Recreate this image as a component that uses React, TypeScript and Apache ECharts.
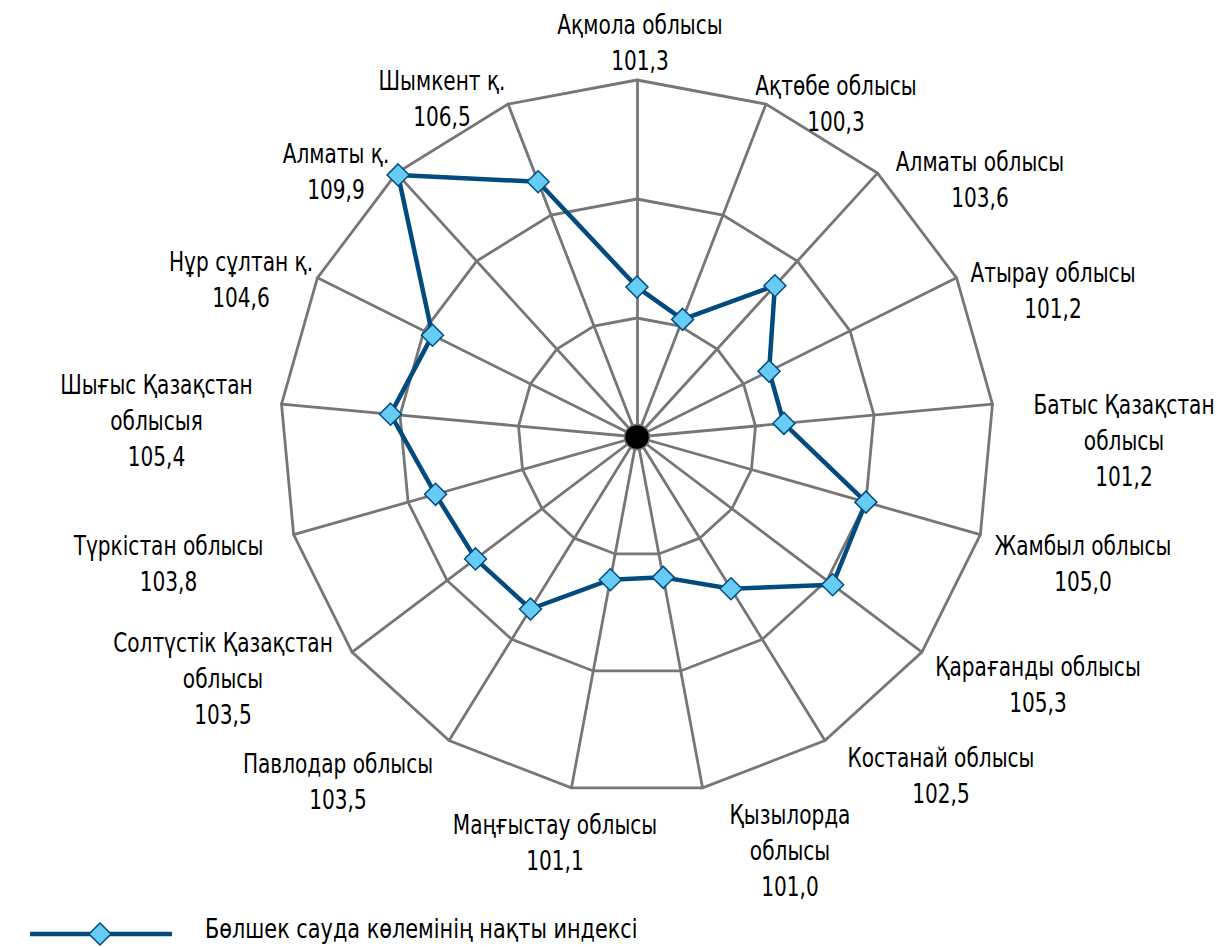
import React, { useEffect, useRef } from 'react';
import * as echarts from 'echarts';

// ---- data ----
const REGIONS: string[] = [
  'Ақмола облысы',
  'Ақтөбе облысы',
  'Алматы облысы',
  'Атырау облысы',
  'Батыс Қазақстан\nоблысы',
  'Жамбыл облысы',
  'Қарағанды облысы',
  'Костанай облысы',
  'Қызылорда\nоблысы',
  'Маңғыстау облысы',
  'Павлодар облысы',
  'Солтүстік Қазақстан\nоблысы',
  'Түркістан облысы',
  'Шығыс Қазақстан\nоблысыя',
  'Нұр сұлтан қ.',
  'Алматы қ.',
  'Шымкент қ.',
];
const VALUES: number[] = [
  101.3, 100.3, 103.6, 101.2, 101.2, 105.0, 105.3, 102.5, 101.0, 101.1, 103.5, 103.5, 103.8, 105.4, 104.6, 109.9, 106.5,
];
const AXIS_MIN = 95;
const AXIS_MAX = 110;
const SPLITS = 3;
const SERIES_NAME = 'Бөлшек сауда көлемінің нақты индексі';

// ---- layout (not data) ----
const CENTER: [number, number] = [637, 437];
const RADIUS = 357;
const LABEL_POS: [number, number][] = [
  [640, 43], [836, 104], [980, 180], [1053, 291], [1124, 441], [1083, 563.5], [1038, 685],
  [941, 775.5], [790, 851], [555, 842.5], [338, 782], [223, 678.5], [168.5, 563.5],
  [156.5, 420.5], [241, 280], [336, 171.5], [442, 98.5],
];
const FONT = "'DejaVu Sans Condensed', 'Liberation Sans Narrow', 'Noto Sans', sans-serif";
const FONT_SIZE = 26;
const TEXT_SCALE_X = 0.86;
const GRID_COLOR = '#767676';
const LINE_COLOR = '#034B7E';
const MARKER_FILL = '#66CCF4';

const fmt = (v: number) => v.toFixed(1).replace('.', ',');

export default function App() {
  const ref = useRef<HTMLDivElement>(null);

  useEffect(() => {
    document.body.style.margin = '0';
    if (!ref.current) return;
    const chart = echarts.init(ref.current, undefined, { renderer: 'svg' });

    // ECharts lays radar axes counter-clockwise; reorder so they run clockwise like the reference
    const order = [0, ...REGIONS.map((_, i) => i).slice(1).reverse()];

    const labels = REGIONS.map((name, i) => ({
      type: 'text',
      x: LABEL_POS[i][0],
      y: LABEL_POS[i][1],
      scaleX: TEXT_SCALE_X,
      z: 20,
      style: {
        text: name + '\n' + fmt(VALUES[i]),
        fill: '#000',
        fontFamily: FONT,
        fontSize: FONT_SIZE,
        lineHeight: 36,
        align: 'center',
        verticalAlign: 'middle',
        textAlign: 'center',
        textVerticalAlign: 'middle',
      },
    }));

    const legendY = 934;
    const option: any = {
      animation: false,
      backgroundColor: '#fff',
      radar: {
        center: CENTER,
        radius: RADIUS,
        startAngle: 90,
        splitNumber: SPLITS,
        shape: 'polygon',
        indicator: order.map((i) => ({ name: REGIONS[i], min: AXIS_MIN, max: AXIS_MAX })),
        axisName: { show: false },
        axisLine: { show: true, lineStyle: { color: GRID_COLOR, width: 2.8 } },
        splitLine: { show: true, lineStyle: { color: GRID_COLOR, width: 2.8 } },
        splitArea: { show: false },
        axisTick: { show: false },
        axisLabel: { show: false },
      },
      series: [
        {
          type: 'radar',
          name: SERIES_NAME,
          z: 5,
          symbol: 'diamond',
          symbolSize: 22,
          lineStyle: { color: LINE_COLOR, width: 4.5 },
          itemStyle: { color: MARKER_FILL, borderColor: LINE_COLOR, borderWidth: 1.5 },
          data: [{ value: order.map((i) => VALUES[i]), name: SERIES_NAME }],
        },
      ],
      graphic: [
        {
          type: 'circle',
          z: 10,
          shape: { cx: CENTER[0], cy: CENTER[1], r: 12.5 },
          style: { fill: '#000', stroke: GRID_COLOR, lineWidth: 1.5 },
        },
        ...labels,
        {
          type: 'line',
          z: 20,
          shape: { x1: 30, y1: legendY, x2: 172, y2: legendY },
          style: { stroke: LINE_COLOR, lineWidth: 4.5 },
        },
        {
          type: 'polygon',
          z: 21,
          shape: { points: [[100, legendY - 11], [111, legendY], [100, legendY + 11], [89, legendY]] },
          style: { fill: MARKER_FILL, stroke: LINE_COLOR, lineWidth: 1.5 },
        },
        {
          type: 'text',
          z: 20,
          x: 205,
          y: 929,
          scaleX: 0.89,
          style: {
            text: SERIES_NAME,
            fill: '#000',
            fontFamily: FONT,
            fontSize: FONT_SIZE,
            lineHeight: 28,
            align: 'left',
            verticalAlign: 'middle',
            textAlign: 'left',
            textVerticalAlign: 'middle',
          },
        },
      ],
    };
    chart.setOption(option);
    return () => chart.dispose();
  }, []);

  return <div ref={ref} style={{ width: 1217, height: 947 }} />;
}
